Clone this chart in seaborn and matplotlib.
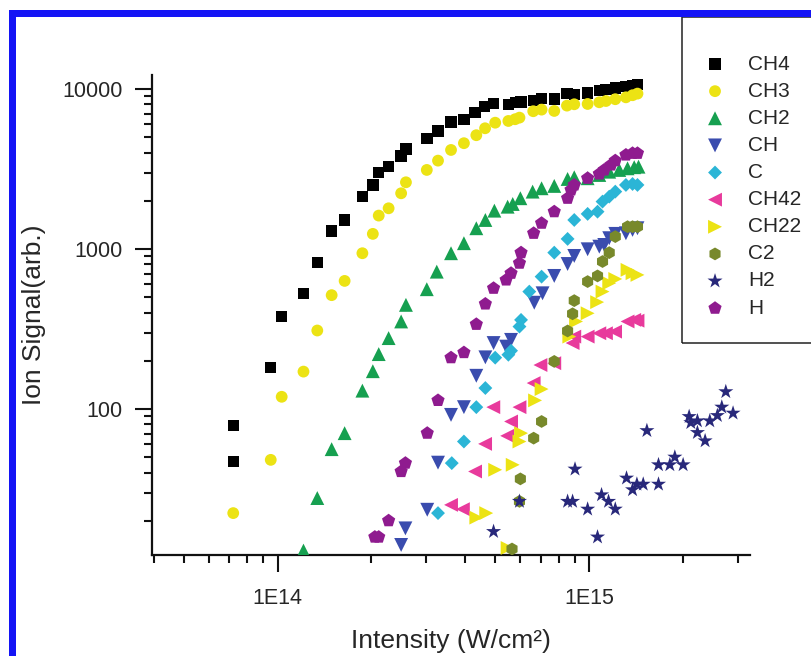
import matplotlib
matplotlib.use("Agg")
import matplotlib.pyplot as plt
import seaborn as sns
from matplotlib.patches import Rectangle
from matplotlib.ticker import FixedLocator, FixedFormatter, LogLocator, NullFormatter

# ---------------- data ----------------
series_names = ["CH4", "CH3", "CH2", "CH", "C", "CH42", "CH22", "C2", "H2", "H"]

ch4_x = [7.2e13, 7.2e13, 9.5e13, 1.03e14, 1.21e14, 1.34e14, 1.49e14, 1.64e14, 1.87e14, 2.02e14,
         2.11e14, 2.27e14, 2.49e14, 2.58e14, 3.01e14, 3.27e14, 3.60e14, 3.96e14, 4.30e14, 4.61e14,
         4.93e14, 5.51e14, 5.82e14, 6.04e14, 6.61e14, 7.03e14, 7.72e14, 8.48e14, 8.95e14, 9.88e14,
         1.077e15, 1.131e15, 1.212e15, 1.311e15, 1.377e15, 1.428e15]
ch4_y = [47, 79, 181, 378, 526, 822, 1296, 1517, 2123, 2512,
         3016, 3268, 3811, 4217, 4890, 5464, 6222, 6469, 7110, 7745,
         8142, 8025, 8203, 8295, 8450, 8750, 8630, 9355, 9270, 9440,
         9760, 9960, 10150, 10330, 10540, 10700]

ch3_x = [7.2e13, 9.5e13, 1.03e14, 1.21e14, 1.34e14, 1.49e14, 1.64e14, 1.87e14, 2.02e14, 2.11e14,
         2.27e14, 2.49e14, 2.58e14, 3.01e14, 3.27e14, 3.60e14, 3.96e14, 4.34e14, 4.63e14, 4.99e14,
         5.50e14, 5.78e14, 5.97e14, 6.61e14, 7.03e14, 7.72e14, 8.48e14, 8.95e14, 9.88e14, 1.077e15,
         1.131e15, 1.212e15, 1.311e15, 1.377e15, 1.428e15]
ch3_y = [22.3, 48, 119, 171, 309, 514, 631, 940, 1242, 1616,
         1795, 2228, 2610, 3118, 3565, 4157, 4582, 5140, 5680, 6155,
         6310, 6469, 6620, 7260, 7430, 7290, 7870, 8025, 8060, 8260,
         8410, 8630, 8870, 9140, 9355]

ch2_x = [1.21e14, 1.34e14, 1.49e14, 1.64e14, 1.87e14, 2.02e14, 2.11e14, 2.27e14, 2.49e14, 2.58e14,
         3.01e14, 3.24e14, 3.60e14, 3.96e14, 4.34e14, 4.64e14, 4.96e14, 5.47e14, 5.68e14, 6.01e14,
         6.58e14, 7.03e14, 7.72e14, 8.52e14, 8.95e14, 9.88e14, 1.077e15, 1.159e15, 1.248e15, 1.327e15,
         1.394e15, 1.439e15]
ch2_y = [13.0, 27.7, 56, 70.5, 130, 172, 220, 277, 352, 447,
         560, 721, 940, 1086, 1347, 1517, 1735, 1837, 1910, 2075,
         2282, 2395, 2477, 2738, 2805, 2767, 2900, 3040, 3118, 3192,
         3243, 3268]

ch_x = [2.49e14, 2.57e14, 3.02e14, 3.27e14, 3.60e14, 3.96e14, 4.34e14, 4.64e14, 4.93e14, 5.41e14,
        5.61e14, 6.66e14, 7.08e14, 7.72e14, 8.52e14, 8.95e14, 9.88e14, 1.077e15, 1.117e15, 1.159e15,
        1.212e15, 1.311e15, 1.377e15, 1.428e15]
ch_y = [14.1, 17.9, 23.4, 46.1, 91.7, 102.5, 161, 210, 258, 245,
        270, 461, 528, 678, 805, 904, 995, 1033, 1059, 1167,
        1242, 1253, 1315, 1347]

c_x = [3.27e14, 3.62e14, 3.96e14, 4.34e14, 4.64e14, 4.99e14, 5.50e14, 5.61e14, 5.97e14, 6.04e14,
       6.42e14, 7.03e14, 7.72e14, 8.52e14, 8.95e14, 9.88e14, 1.063e15, 1.103e15, 1.159e15, 1.212e15,
       1.311e15, 1.377e15, 1.428e15]
c_y = [22.3, 45.8, 62.5, 102.5, 135, 209, 218, 231, 327, 360,
       541, 671, 948, 1155, 1517, 1656, 1710, 1977, 2123, 2282,
       2512, 2547, 2512]

ch42_x = [3.60e14, 3.93e14, 4.30e14, 4.63e14, 4.92e14, 5.45e14, 5.61e14, 5.97e14, 6.63e14, 6.97e14,
          7.72e14, 8.84e14, 8.95e14, 9.88e14, 1.077e15, 1.131e15, 1.21e15, 1.327e15, 1.394e15, 1.428e15]
ch42_y = [25.1, 23.6, 40.6, 60.4, 102.5, 67.8, 83.4, 102.5, 145, 188,
          193, 258, 283, 283, 297, 297, 304, 352, 360, 356]

ch22_x = [4.34e14, 4.67e14, 4.99e14, 5.47e14, 5.68e14, 5.97e14, 6.04e14, 6.70e14, 7.03e14, 8.63e14,
          9.07e14, 9.88e14, 1.06e15, 1.103e15, 1.159e15, 1.212e15, 1.327e15, 1.377e15, 1.428e15]
ch22_y = [20.9, 22.3, 41.6, 13.5, 44.7, 62.5, 70.5, 113, 133, 283,
          352, 396, 465, 541, 611, 649, 740, 705, 688]

c2_x = [5.65e14, 5.97e14, 6.01e14, 6.63e14, 7.03e14, 7.72e14, 8.52e14, 8.84e14, 8.95e14, 9.88e14,
        1.063e15, 1.103e15, 1.159e15, 1.212e15, 1.327e15, 1.377e15, 1.428e15]
c2_y = [13.3, 26.4, 36.5, 65.6, 83.4, 198, 307, 393, 475, 625,
        678, 834, 948, 1194, 1377, 1377, 1377]

h2_x = [4.93e14, 5.97e14, 8.52e14, 8.84e14, 9.0e14, 9.88e14, 1.063e15, 1.095e15, 1.153e15, 1.212e15,
        1.317e15, 1.377e15, 1.422e15, 1.490e15, 1.531e15, 1.668e15, 1.668e15, 1.814e15, 1.882e15, 2.001e15,
        2.092e15, 2.118e15, 2.224e15, 2.224e15, 2.354e15, 2.437e15, 2.577e15, 2.663e15, 2.743e15, 2.894e15]
h2_y = [17.1, 26.4, 26.4, 26.4, 42, 23.6, 15.8, 29, 26.4, 23.6,
        36.9, 31.2, 33.8, 33.8, 73.1, 33.8, 44.7, 44.7, 49.9, 44.7,
        89.5, 82, 84.1, 71.1, 63.1, 84.1, 90.8, 102.5, 128, 94]

h_x = [2.05e14, 2.11e14, 2.27e14, 2.49e14, 2.57e14, 3.02e14, 3.27e14, 3.60e14, 3.96e14, 4.34e14,
       4.64e14, 4.93e14, 5.41e14, 5.61e14, 5.97e14, 6.04e14, 6.63e14, 7.03e14, 7.72e14, 8.52e14,
       8.74e14, 8.95e14, 9.88e14, 1.077e15, 1.117e15, 1.174e15, 1.212e15, 1.311e15, 1.377e15, 1.428e15]
h_y = [15.8, 15.8, 20, 40.6, 45.8, 70.5, 113, 209, 225, 338,
       453, 568, 640, 705, 815, 948, 1253, 1449, 1710, 2075,
       2339, 2512, 2767, 2944, 3118, 3350, 3565, 3869, 3963, 3963]

x_tick_values = [1e14, 1e15]
x_tick_labels = ["1E14", "1E15"]
y_tick_values = [100, 1000, 10000]
y_tick_labels = ["100", "1000", "10000"]

series_x = [ch4_x, ch3_x, ch2_x, ch_x, c_x, ch42_x, ch22_x, c2_x, h2_x, h_x]
series_y = [ch4_y, ch3_y, ch2_y, ch_y, c_y, ch42_y, ch22_y, c2_y, h2_y, h_y]

# ---------------- styling ----------------
colors = ["#000000", "#ece314", "#16a050", "#3a4cae", "#2bb5d6",
          "#e83a9c", "#ece314", "#78892b", "#28287a", "#8f1b8f"]
markers = ["s", "o", "^", "v", "D", "<", ">", "h", "*", "p"]
sizes = [68, 72, 100, 100, 50, 100, 100, 85, 130, 100]

sns.set_style("ticks")
plt.rcParams["font.family"] = ["Liberation Sans", "DejaVu Sans"]

fig = plt.figure(figsize=(8.11, 6.56), dpi=100)
W, H = 811.0, 656.0
ax = fig.add_axes([152 / W, 1 - 555 / H, (750 - 152) / W, (555 - 75) / H])

for name, xs, ys, col, mk, sz in zip(series_names, series_x, series_y, colors, markers, sizes):
    sns.scatterplot(x=xs, y=ys, ax=ax, marker=mk, color=col, s=sz,
                    linewidth=0, edgecolor="none", label=name, zorder=3)

ax.set_xscale("log")
ax.set_yscale("log")
ax.set_xlim(3.95e13, 3.28e15)
ax.set_ylim(12.2, 12230)

ax.xaxis.set_major_locator(FixedLocator(x_tick_values))
ax.xaxis.set_major_formatter(FixedFormatter(x_tick_labels))
ax.yaxis.set_major_locator(FixedLocator(y_tick_values))
ax.yaxis.set_major_formatter(FixedFormatter(y_tick_labels))
ax.xaxis.set_minor_locator(LogLocator(base=10, subs=range(2, 10), numticks=20))
ax.yaxis.set_minor_locator(LogLocator(base=10, subs=range(2, 10), numticks=20))
ax.xaxis.set_minor_formatter(NullFormatter())
ax.yaxis.set_minor_formatter(NullFormatter())

for side in ["top", "right"]:
    ax.spines[side].set_visible(False)
for side in ["left", "bottom"]:
    ax.spines[side].set_linewidth(1.6)
    ax.spines[side].set_color("#111111")

ax.tick_params(axis="both", which="major", direction="out", length=12.5, width=1.5,
               labelsize=15.5, color="#111111")
ax.tick_params(axis="both", which="minor", direction="out", length=6, width=1.5, color="#111111")
ax.tick_params(axis="y", which="major", pad=8.5)
ax.tick_params(axis="x", which="major", pad=11)

ax.set_xlabel("Intensity (W/cm²)", fontsize=19, labelpad=15)
ax.set_ylabel("Ion Signal(arb.)", fontsize=19, labelpad=12)

handles, labels = ax.get_legend_handles_labels()
if ax.get_legend() is not None:
    ax.get_legend().remove()
fig.legend(handles, labels, loc="upper left", bbox_to_anchor=(704.6 / W, 1 - 54.5 / H),
           bbox_transform=fig.transFigure, frameon=False, fontsize=15,
           handlelength=1.0, handletextpad=1.09, labelspacing=0.39,
           borderpad=0, borderaxespad=0, scatterpoints=1)

# legend box (extends past the right edge)
fig.add_artist(Rectangle((682 / W, 1 - 343 / H), 0.3, (343 - 17) / H, transform=fig.transFigure,
                         fill=False, edgecolor="#222222", linewidth=1.1, clip_on=False))
# blue frame (top and left)
fig.add_artist(Rectangle((9 / W, 1 - 17 / H), 1.0, 7 / H, transform=fig.transFigure,
                         facecolor="#1414f5", edgecolor="none", clip_on=False))
fig.add_artist(Rectangle((9 / W, 0), 7 / W, 1 - 10 / H, transform=fig.transFigure,
                         facecolor="#1414f5", edgecolor="none", clip_on=False))

fig.savefig("out.png", dpi=100)
